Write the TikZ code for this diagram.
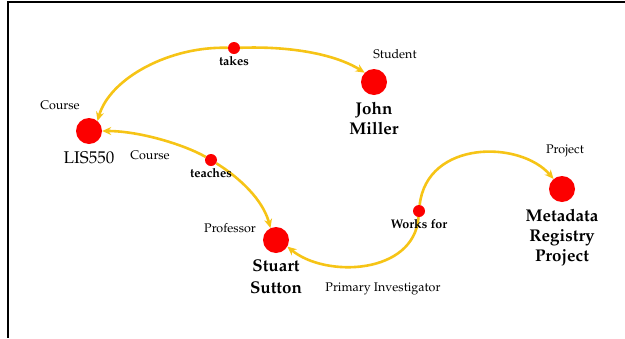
\documentclass[tikz,border=0pt]{standalone}
\usepackage[T1]{fontenc}
\usepackage{mathpazo}
\usepackage{tikz}
\usetikzlibrary{arrows.meta,positioning}
\definecolor{linkgold}{RGB}{246,196,22}
\definecolor{dotred}{RGB}{252,0,0}
\tikzset{
  classdot/.style={circle, fill=dotred, minimum size=26pt, inner sep=0pt},
  reldot/.style={circle, fill=dotred, minimum size=12pt, inner sep=0pt},
  link/.style={draw=linkgold, line width=2.6pt, -{Stealth[length=9pt,width=8pt]}},
  typelbl/.style={font=\fontsize{12.5}{14}\selectfont, inner sep=1pt},
  rellbl/.style={font=\fontsize{12.5}{14}\selectfont\bfseries, inner sep=1pt},
  namelbl/.style={font=\fontsize{17}{20}\selectfont\bfseries, align=center, inner sep=1pt}
}

\begin{document}
\begin{tikzpicture}[x=1pt, y=-1pt]
\useasboundingbox (0,0) rectangle (625,338);
\draw[line width=1.4pt] (625,2) -- (8,2) -- (8,338);

% classes
\node[classdot] (lis) at (89,131) {};
\node[classdot] (john) at (374,82) {};
\node[classdot] (stuart) at (276,240) {};
\node[classdot] (meta) at (562,189) {};

% relations
\node[reldot] (takes) at (234,48) {};
\node[reldot] (teaches) at (211,160) {};
\node[reldot] (works) at (419,211) {};

% links
\draw[link] (takes) .. controls (170,46) and (110,78) .. (lis.50);
\draw[link] (takes) .. controls (290,46) and (335,54) .. (john.135);
\draw[link] (teaches) .. controls (185,145) and (140,131) .. (lis.east);
\draw[link] (teaches) .. controls (240,178) and (263,200) .. (stuart.115);
\draw[link] (works) .. controls (427,140) and (520,140) .. (meta.130);
\draw[link] (works) .. controls (414,275) and (325,278) .. (stuart.-30);

% labels
\node[typelbl] (lisType) at (60,105) {Course};
\node[namelbl, font=\fontsize{17}{20}\selectfont, below=6pt of lis] (lisName) {LIS550};
\node[typelbl] (johnType) at (395,54) {Student};
\node[namelbl, below=6pt of john] (johnName) {John\\Miller};
\node[typelbl] (teachType) at (150,155) {Course};
\node[typelbl] (stuartType) at (230,228) {Professor};
\node[namelbl, font=\fontsize{17}{22}\selectfont\bfseries, below=5pt of stuart] (stuartName) {Stuart\\Sutton};
\node[typelbl] (piType) at (383,289) {Primary Investigator};
\node[typelbl] (metaType) at (565,151) {Project};
\node[namelbl, below=6pt of meta] (metaName) {Metadata\\Registry\\Project};
\node[rellbl, below=1pt of takes] (takesLbl) {takes};
\node[rellbl, below=1pt of teaches] (teachesLbl) {teaches};
\node[rellbl, below=1pt of works] (worksLbl) {Works for};
\end{tikzpicture}
\end{document}
